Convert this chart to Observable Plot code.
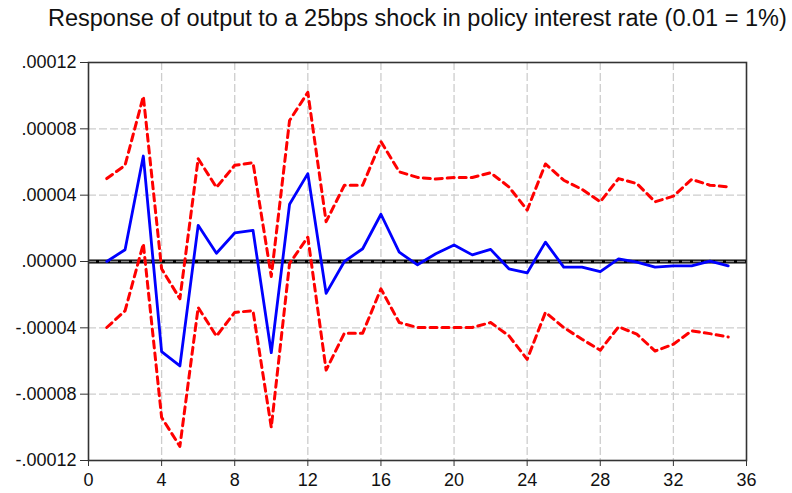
<!DOCTYPE html>
<html>
<head>
<meta charset="utf-8">
<script src="https://cdn.jsdelivr.net/npm/d3@7"></script>
<script src="https://cdn.jsdelivr.net/npm/@observablehq/plot@0.6"></script>
<style>
  html, body { margin: 0; padding: 0; background: #fff; }
  #title {
    height: 40px; box-sizing: border-box; padding-top: 5px; padding-left: 48px;
    font-family: "Liberation Sans", Arial, sans-serif; font-size: 23.5px;
    line-height: 27px; color: #111; white-space: nowrap;
  }
  #chart svg { display: block; }
</style>
</head>
<body>
<div id="title">Response of output to a 25bps shock in policy interest rate (0.01 = 1%)</div>
<div id="chart"></div>
<script>
const titleText = "Response of output to a 25bps shock in policy interest rate (0.01 = 1%)";
const periods = [1,2,3,4,5,6,7,8,9,10,11,12,13,14,15,16,17,18,19,20,21,22,23,24,25,26,27,28,29,30,31,32,33,34,35];
const response = [0, 0.0000071, 0.0000636, -0.0000544, -0.000063, 0.0000218, 0.000005, 0.0000172, 0.0000188, -0.000055,
  0.0000345, 0.000053, -0.0000192, 0, 0.0000077, 0.0000285, 0.0000056, -0.000002, 0.0000047, 0.00001,
  0.000004, 0.0000073, -0.0000044, -0.0000069, 0.0000117, -0.0000034, -0.0000034, -0.0000061, 0.0000016, -0.0000004,
  -0.0000034, -0.0000026, -0.0000026, 0.0000002, -0.0000026];
const upperBand = [0.00005, 0.000058, 0.0000996, -0.0000044, -0.0000225, 0.000062, 0.0000447, 0.000058, 0.0000596, -0.000009,
  0.000085, 0.000102, 0.000024, 0.000046, 0.000046, 0.0000723, 0.0000541, 0.0000507, 0.0000497, 0.0000507,
  0.0000507, 0.0000535, 0.000045, 0.000031, 0.0000588, 0.000049, 0.0000435, 0.000036, 0.00005, 0.000047,
  0.000036, 0.0000394, 0.0000495, 0.000046, 0.000045];
const lowerBand = [-0.0000398, -0.0000297, 0.0000107, -0.000094, -0.0001115, -0.0000277, -0.000045, -0.0000307, -0.0000297, -0.0001,
  -0.0000012, 0.0000147, -0.0000655, -0.0000432, -0.0000432, -0.0000165, -0.0000368, -0.0000398, -0.0000398, -0.0000398,
  -0.0000398, -0.0000368, -0.0000448, -0.000059, -0.0000307, -0.0000398, -0.0000469, -0.0000535, -0.0000394, -0.0000438,
  -0.000054, -0.0000499, -0.0000418, -0.0000435, -0.0000455];
const xTicks = [0, 4, 8, 12, 16, 20, 24, 28, 32, 36];
const yTicks = [-0.00012, -0.00008, -0.00004, 0, 0.00004, 0.00008, 0.00012];
const xGrid = [4, 8, 12, 16, 20, 24, 28, 32];
const yGrid = [-0.00008, -0.00004, 0.00004, 0.00008];

const rows = periods.map((p, i) => ({p, r: response[i], u: upperBand[i], l: lowerBand[i]}));
const f5 = d3.format(".5f");
const yFmt = d => f5(d).replace("\u2212", "-").replace("0.", ".");

const chart = Plot.plot({
  width: 792,
  height: 453,
  marginTop: 22,
  marginBottom: 33,
  marginLeft: 88,
  marginRight: 46,
  style: {fontFamily: "'Liberation Sans', Arial, sans-serif", fontSize: "18px", color: "#111", background: "#fff"},
  x: {domain: [0, 36]},
  y: {domain: [-0.00012, 0.00012]},
  marks: [
    Plot.gridX(xGrid, {stroke: "#cdcdcd", strokeOpacity: 1, strokeWidth: 1.3, strokeDasharray: "8,3"}),
    Plot.gridY(yGrid, {stroke: "#cdcdcd", strokeOpacity: 1, strokeWidth: 1.3, strokeDasharray: "8,3"}),
    Plot.ruleY([0], {stroke: "#000", strokeWidth: 4}),
    Plot.ruleY([0], {stroke: "#8a8a8a", strokeWidth: 1.3, strokeDasharray: "8,3"}),
    Plot.line(rows, {x: "p", y: "u", stroke: "#ff0000", strokeWidth: 3, strokeDasharray: "7,5"}),
    Plot.line(rows, {x: "p", y: "l", stroke: "#ff0000", strokeWidth: 3, strokeDasharray: "7,5"}),
    Plot.line(rows, {x: "p", y: "r", stroke: "#0000ff", strokeWidth: 2.8}),
    Plot.frame({stroke: "#333", strokeWidth: 1.6}),
    Plot.axisX({ticks: xTicks, tickFormat: d => String(d), tickSize: 6, tickPadding: 7, label: null, stroke: "#333", fontSize: 18}),
    Plot.axisY({ticks: yTicks, tickFormat: yFmt, tickSize: 8, tickPadding: 4, label: null, stroke: "#333", fontSize: 18})
  ]
});
document.getElementById("chart").appendChild(chart);
</script>
</body>
</html>
